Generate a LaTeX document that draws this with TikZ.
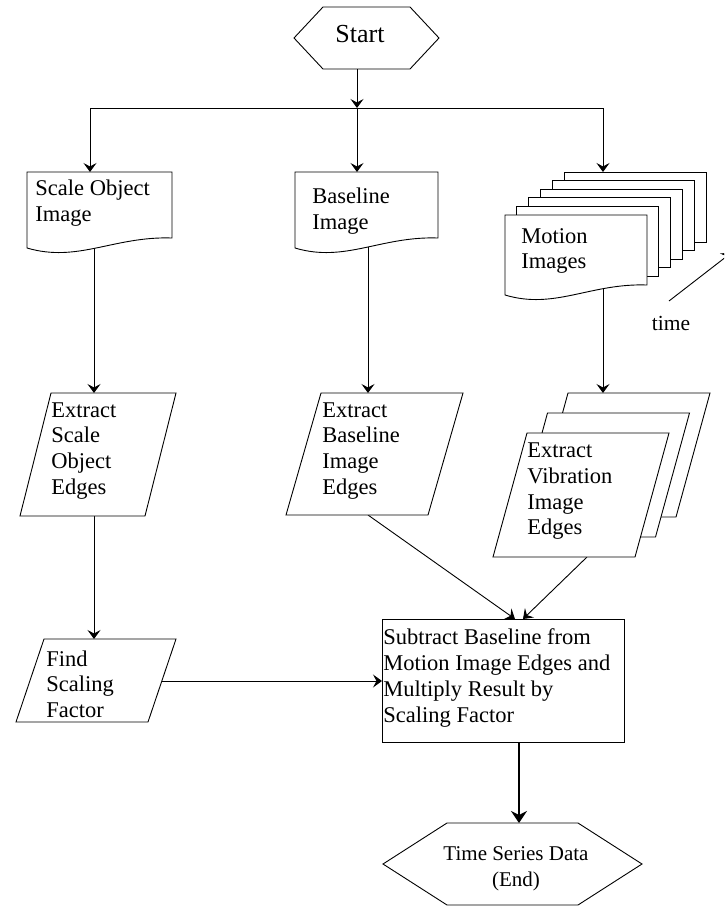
\documentclass[tikz,border=0pt]{standalone}
\usepackage{fontspec}
\setmainfont{Liberation Serif}
\usetikzlibrary{arrows.meta}
\newcommand\docshape[4]{%
  \filldraw[shp] (#1,#2) -- ({#1+#3},#2) -- ({#1+#3},{#2+#4})
    .. controls ({#1+0.6*#3},{#2+#4-2}) and ({#1+0.35*#3},{#2+#4+25}) .. (#1,{#2+#4+10}) -- cycle;}
\newcommand\parashape[5]{%
  \filldraw[shp] (#1,#2) -- ({#1+#3},#2) -- ({#1+#3-#5},{#2+#4}) -- ({#1-#5},{#2+#4}) -- cycle;}
\begin{document}
\begin{tikzpicture}[x=1pt,y=-1pt,
  line width=0.9pt, line join=miter,
  conn/.style={-{Stealth[length=9pt,width=13pt,inset=3.5pt]}},
  thickconn/.style={line width=2.2pt,-{Stealth[length=12pt,width=16pt,inset=4pt]}},
  shp/.style={draw=black, fill=white},
  lbl/.style={font=\fontsize{22.5}{25.8}\selectfont, inner sep=0pt, align=left, anchor=north west},
]
\useasboundingbox (0,0) rectangle (724,907);
\clip (0,0) rectangle (724,907);

% ---------- coordinates for connectors ----------
\coordinate (startOut) at (357,60);
\coordinate (jc) at (357,108);
\coordinate (jl) at (90,108);
\coordinate (jr) at (603,108);
\coordinate (scaleDocIn) at (90,172);
\coordinate (baseDocIn) at (357,172);
\coordinate (motionIn) at (603,172);
\coordinate (scaleDocOut) at (94,240);
\coordinate (baseDocOut) at (368,240);
\coordinate (motionOut) at (603,285);
\coordinate (exSIn) at (94,393);
\coordinate (exBIn) at (368,393);
\coordinate (exVIn) at (603,393);
\coordinate (exSOut) at (94,510);
\coordinate (findIn) at (94,639);
\coordinate (findOut) at (161.8,681);
\coordinate (subLeft) at (382,681);
\coordinate (exBOut) at (368,515);
\coordinate (exVOut) at (587,557);
\coordinate (subTopA) at (515,619);
\coordinate (subTopB) at (523,619);
\coordinate (subBot) at (519,742);
\coordinate (endTop) at (519,823);
\coordinate (tm1) at (669,301);
\coordinate (tm2) at (731,253);

% ---------- connectors ----------
\draw[conn] (startOut) -- (jc);
\draw (jl) -- (jr);
\draw[conn] (jl) -- (scaleDocIn);
\draw[conn] (jc) -- (baseDocIn);
\draw[conn] (jr) -- (motionIn);
\draw[conn] (scaleDocOut) -- (exSIn);
\draw[conn] (baseDocOut) -- (exBIn);
\draw[conn] (motionOut) -- (exVIn);
\draw[conn] (exSOut) -- (findIn);
\draw[conn] (findOut) -- (subLeft);
\draw[conn] (exBOut) -- (subTopA);
\draw[conn] (exVOut) -- (subTopB);
\draw[thickconn] (subBot) -- (endTop);
\draw[conn] (tm1) -- (tm2);

% ---------- shapes ----------
\filldraw[shp] (294,38) -- (323,7) -- (410,7) -- (439,38) -- (410,69) -- (323,69) -- cycle;
\docshape{27}{172}{145}{66}
\docshape{295}{172}{143}{66}
\foreach \k in {5,4,3,2,1}{
  \filldraw[shp] ({505+11.8*\k},{215-8.6*\k}) rectangle ++(142,70);
}
\docshape{505}{215}{142}{70}
\parashape{51}{393}{125}{123}{31}
\parashape{321}{393}{142}{122}{35}
\parashape{568}{393}{142}{124}{34}
\parashape{547.5}{413}{142}{124}{34}
\parashape{527}{433}{142}{124}{34}
\parashape{44}{639}{132}{83}{28}
\filldraw[shp] (382,619) rectangle (624,742);
\filldraw[shp] (383,864) -- (447,823) -- (578,823) -- (642,864) -- (578,905) -- (447,905) -- cycle;

% ---------- texts ----------
\node[font=\fontsize{26}{30}\selectfont, inner sep=0pt, anchor=base] (tStart) at (360,42.3) {Start};
\node[lbl] (tScale) at (35,179.3) {Scale Object\\Image};
\node[lbl] (tBase) at (312,187.7) {Baseline\\Image};
\node[lbl] (tMotion) at (521,227.7) {Motion\\Images};
\node[font=\fontsize{21.5}{26}\selectfont, inner sep=0pt, anchor=base] (tTime) at (671,330) {time};
\node[lbl] (tExS) at (51,402) {Extract\\Scale\\Object\\Edges};
\node[lbl] (tExB) at (322,402) {Extract\\Baseline\\Image\\Edges};
\node[lbl] (tExV) at (527,442.4) {Extract\\Vibration\\Image\\Edges};
\node[lbl] (tFind) at (46,650) {Find\\Scaling\\Factor};
\node[lbl] (tSub) at (383,628.3) {Subtract Baseline from\\Motion Image Edges and\\Multiply Result by\\Scaling Factor};
\node[font=\fontsize{21}{26}\selectfont, inner sep=0pt, align=center, anchor=north] (tEnd) at (516,846) {Time Series Data\\(End)};
\end{tikzpicture}
\end{document}
